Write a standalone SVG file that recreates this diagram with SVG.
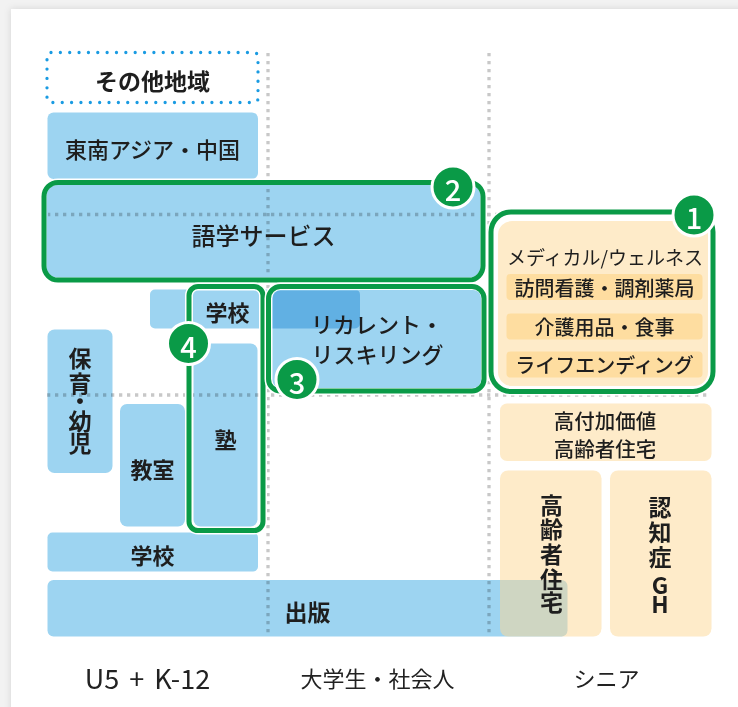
<svg xmlns="http://www.w3.org/2000/svg" width="738" height="707" viewBox="0 0 738 707">
<defs>
<filter id="sh" x="-5%" y="-5%" width="110%" height="110%">
<feDropShadow dx="0" dy="0" stdDeviation="3.5" flood-color="#000" flood-opacity="0.13"/>
</filter>
<style>
text{font-family:"Noto Sans CJK JP","Noto Sans",sans-serif;fill:#1e1e1e;text-anchor:middle;dominant-baseline:central}
.b{fill:#9dd4f1;mix-blend-mode:multiply}
.o{fill:#fdd998;fill-opacity:0.52}
.os{fill:#fedda0}
.grid{stroke:#c8c8c8;stroke-width:3.3;stroke-dasharray:3.3 4.7;fill:none}
.under{fill:none;stroke:#fff;stroke-width:8}
.green{fill:none;stroke:#0a9a47;stroke-width:5}
.badge circle{fill:#0a9a47;stroke:#fff;stroke-width:3}
.badge text{fill:#fff;font-size:29px;font-weight:500}
.t22{font-size:22px;font-weight:700}
.t23{font-size:23px;font-weight:700}
.m{font-weight:500}
.v{writing-mode:vertical-rl;text-orientation:upright;text-anchor:start;font-size:23px;font-weight:700}
.ax{font-size:22px;font-weight:400;fill:#222}
</style>
</defs>
<rect x="0" y="0" width="738" height="707" fill="#f2f2f2"/>
<rect x="11" y="9" width="740" height="720" fill="#fff" filter="url(#sh)"/>

<g id="grid">
<line class="grid" x1="268" y1="53" x2="268" y2="635"/>
<line class="grid" x1="489" y1="53" x2="489" y2="635"/>
<line class="grid" x1="47" y1="214.5" x2="708" y2="214.5"/>
<line class="grid" x1="47" y1="395" x2="708" y2="395"/>
</g>

<g id="other-region">
<rect x="47" y="52.5" width="211" height="50" rx="4" pathLength="55" fill="none" stroke="#1a9be2" stroke-width="3.3" stroke-linecap="round" stroke-dasharray="0 1"/>
<text class="t23" x="152.5" y="80">その他地域</text>
</g>

<g id="sea-china">
<rect class="b" x="47.5" y="112.5" width="210.5" height="66.5" rx="6"/>
<text class="t22 m" x="152.5" y="148">東南アジア・中国</text>
</g>

<g id="school-top">
<rect class="b" x="150" y="289.5" width="210" height="39" rx="5"/>
</g>

<g id="nursery">
<rect class="b" x="47.5" y="329.5" width="65" height="143.5" rx="7"/>
<text class="v" x="80" y="347 371.5 390 409.5 432">保育・幼児</text>
</g>

<g id="classroom">
<rect class="b" x="120" y="404" width="65" height="122.5" rx="7"/>
<text class="t22" x="152.5" y="467.5">教室</text>
</g>

<g id="school-bottom">
<rect class="b" x="47.5" y="532.5" width="210.5" height="39" rx="5"/>
<text class="t22" x="152.5" y="554">学校</text>
</g>

<g id="publishing">
<rect class="b" x="47.5" y="580" width="520" height="56.5" rx="6"/>
<text class="t23" x="307.5" y="611">出版</text>
</g>

<g id="premium-housing">
<rect class="o" x="500" y="403.5" width="211.5" height="57.5" rx="7"/>
<text class="t22 m" style="font-size:20.5px"><tspan x="605" y="420">高付加価値</tspan><tspan x="605" y="448">高齢者住宅</tspan></text>
</g>

<g id="senior-housing">
<rect class="o" x="500" y="470.5" width="101.5" height="166" rx="8"/>
<text class="v" x="551.5" y="493.5 517.5 542.5 567.5 591">高齢者住宅</text>
</g>

<g id="dementia-gh">
<rect class="o" x="610" y="470.5" width="101.5" height="166" rx="8"/>
<text class="v" x="660" y="496 521 546 573.5 592.5">認知症GH</text>
</g>

<g id="language-services">
<rect class="under" x="44" y="182.5" width="439" height="97.5" rx="14"/>
<rect class="b" x="46.5" y="185" width="434" height="92.5" rx="11"/>
<rect class="green" x="44" y="182.5" width="439" height="97.5" rx="14"/>
<text class="m" style="font-size:24px" x="263.5" y="234.5">語学サービス</text>
<g class="badge"><circle cx="453" cy="187" r="21"/><text x="453" y="188">2</text></g>
</g>

<g id="juku">
<rect class="under" x="189" y="286.5" width="74" height="244" rx="9" stroke-width="7"/>
<text class="t22" x="227.5" y="311">学校</text>
<rect class="b" x="193.5" y="343.5" width="64" height="183" rx="7"/>
<rect class="green" x="189" y="286.5" width="74" height="244" rx="9"/>
<text class="t22" x="225.5" y="437.5">塾</text>
<g class="badge"><circle cx="188.5" cy="343.5" r="21"/><text x="188.5" y="344.5">4</text></g>
</g>

<g id="recurrent">
<rect class="under" x="268.5" y="286.5" width="215.5" height="104.5" rx="12" stroke-width="7"/>
<rect class="b" x="272.5" y="290" width="208.5" height="98" rx="8"/>
<rect class="green" x="268.5" y="286.5" width="215.5" height="104.5" rx="12"/>
<text class="m" style="font-size:22px"><tspan x="377" y="323">リカレント・</tspan><tspan x="377.5" y="353">リスキリング</tspan></text>
<g class="badge"><circle cx="297" cy="379.5" r="21"/><text x="297" y="380.5">3</text></g>
</g>

<g id="medical-wellness">
<rect x="491" y="212" width="222" height="179.5" rx="20" fill="#fff" stroke="#fff" stroke-width="8"/>
<rect x="498" y="221" width="210" height="165" rx="14" fill="#feebc9"/>
<rect class="green" x="491" y="212" width="222" height="179.5" rx="20"/>
<text style="font-size:19px;font-weight:400" x="605" y="256.5">メディカル/ウェルネス</text>
<rect class="os" x="506.5" y="274" width="196" height="26" rx="4"/>
<text class="m" style="font-size:20px" x="604.5" y="287">訪問看護・調剤薬局</text>
<rect class="os" x="506.5" y="313.5" width="196" height="26" rx="4"/>
<text class="m" style="font-size:20px" x="604.5" y="326.5">介護用品・食事</text>
<rect class="os" x="506.5" y="351.5" width="196" height="26" rx="4"/>
<text class="m" style="font-size:20px" x="604.5" y="364.5">ライフエンディング</text>
<g class="badge"><circle cx="694" cy="215" r="21"/><text x="694" y="216">1</text></g>
</g>

<g id="axis">
<text class="ax" style="font-size:27px;word-spacing:4px" x="147.5" y="677">U5 + K-12</text>
<text class="ax" x="377.5" y="677">大学生・社会人</text>
<text class="ax" x="606.5" y="677">シニア</text>
</g>
</svg>
